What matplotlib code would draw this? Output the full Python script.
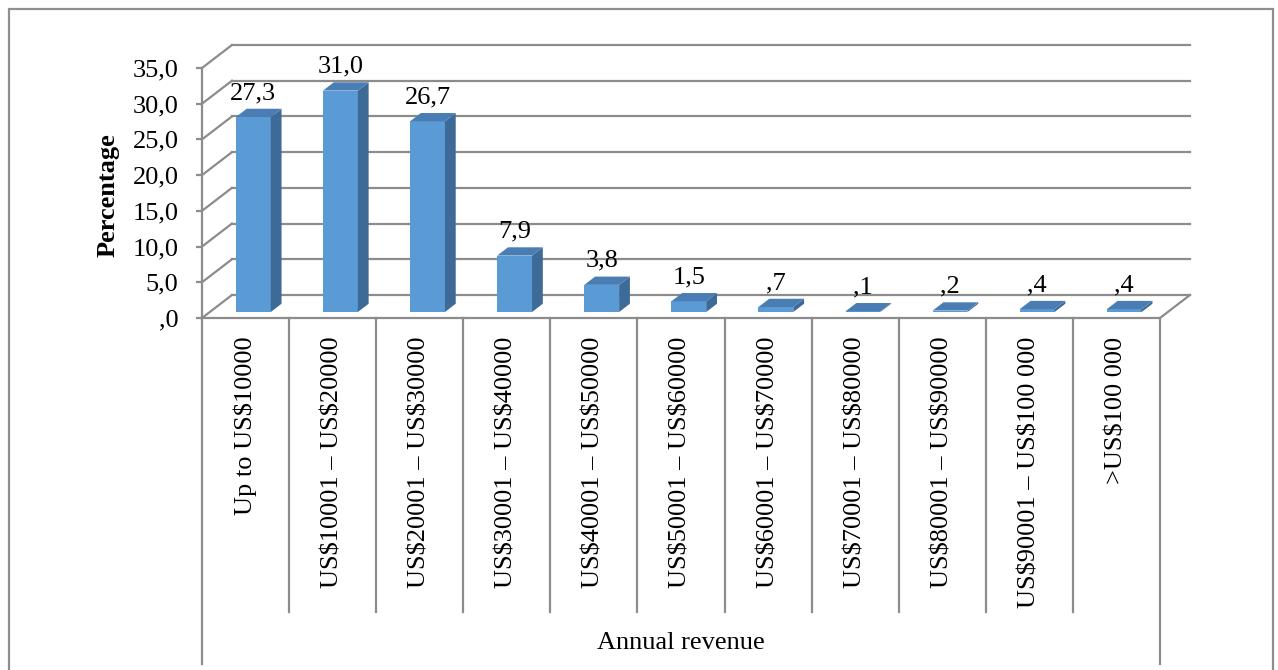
import matplotlib
matplotlib.use("Agg")
import matplotlib.pyplot as plt
from matplotlib.patches import Polygon, Rectangle

categories = [
    "Up to US$10000",
    "US$10001 \u2013 US$20000",
    "US$20001 \u2013 US$30000",
    "US$30001 \u2013 US$40000",
    "US$40001 \u2013 US$50000",
    "US$50001 \u2013 US$60000",
    "US$60001 \u2013 US$70000",
    "US$70001 \u2013 US$80000",
    "US$80001 \u2013 US$90000",
    "US$90001 \u2013 US$100 000",
    ">US$100 000",
]
percentages = [27.3, 31.0, 26.7, 7.9, 3.8, 1.5, 0.7, 0.1, 0.2, 0.4, 0.4]
y_ticks = [0, 5, 10, 15, 20, 25, 30, 35]


def pt_format(v):
    # 0.7 -> ",7", 0 -> ",0", 27.3 -> "27,3"
    s = f"{v:.1f}".replace(".", ",")
    return s[1:] if s.startswith("0") else s


plt.rcParams["font.family"] = ["Liberation Serif", "DejaVu Serif"]
plt.rcParams["text.parse_math"] = False   # dollar signs are literal
FS = 19
GRID = "#8c8c8c"
FRONT = "#5b9bd5"
SIDE = "#3d6a96"
TOP = "#4a7db4"

W, H = 1278, 670
fig = plt.figure(figsize=(W / 100, H / 100), dpi=100)
ax = fig.add_axes([202 / W, (H - 318) / H, (1160 - 202) / W, 250 / H])
ax.set_xlim(0, len(categories))
ax.set_ylim(0, 35)

# 3D depth offset of the back wall (in data units)
DX, DY = 0.344, 3.22
f0, f1 = 0.26, 0.62      # bar front / back position in depth
bw = 0.40                 # bar width

n = len(categories)

# back wall gridlines and left side wall diagonals
for t in y_ticks:
    ax.plot([DX, n + DX], [t + DY, t + DY], color=GRID, lw=1.6, zorder=1, clip_on=False)
    ax.plot([0, DX], [t, t + DY], color=GRID, lw=1.6, zorder=1, clip_on=False)
# right edge of floor
ax.plot([n, n + DX], [0, DY], color=GRID, lw=1.6, zorder=1, clip_on=False)

# bars
for i, v in enumerate(percentages):
    x0 = i + 0.5 - bw / 2 + f0 * DX
    yb = f0 * DY
    ddx, ddy = (f1 - f0) * DX, (f1 - f0) * DY
    ax.add_patch(Rectangle((x0, yb), bw, v, facecolor=FRONT, edgecolor="none", zorder=3, clip_on=False))
    ax.add_patch(Polygon([(x0 + bw, yb), (x0 + bw + ddx, yb + ddy), (x0 + bw + ddx, yb + ddy + v),
                          (x0 + bw, yb + v)], closed=True, facecolor=SIDE, edgecolor="none",
                         zorder=3, clip_on=False))
    ax.add_patch(Polygon([(x0, yb + v), (x0 + bw, yb + v), (x0 + bw + ddx, yb + v + ddy),
                          (x0 + ddx, yb + v + ddy)], closed=True, facecolor=TOP, edgecolor="none",
                         zorder=3, clip_on=False))
    ax.text(x0 + bw / 2, v + yb + ddy + 2.2, pt_format(v), ha="center", va="center",
            fontsize=FS, zorder=4)

# front axes
for side in ["top", "right"]:
    ax.spines[side].set_visible(False)
for side in ["left", "bottom"]:
    ax.spines[side].set_color(GRID)
    ax.spines[side].set_linewidth(1.6)
ax.set_yticks(y_ticks)
ax.set_yticklabels([pt_format(t) for t in y_ticks], fontsize=FS)
ax.tick_params(axis="y", length=4, width=1.6, color=GRID, pad=13)
ax.set_xticks([])

# category dividers and labels below the floor
for k in range(n + 1):
    bottom = -48.5 if k in (0, n) else -41.2
    ax.plot([k, k], [0, bottom], color=GRID, lw=1.6, clip_on=False)
for i, c in enumerate(categories):
    ax.text(i + 0.5, -2.6, c, rotation=90, ha="center", va="top", fontsize=FS)

ax.text(n / 2, -45.5, "Annual revenue", ha="center", va="center", fontsize=FS)
ax.text(-1.08, 17.2, "Percentage", rotation=90, ha="center", va="center",
        fontsize=FS, fontweight="bold")

# chart frame
fig.patches.append(Rectangle((9 / W, -0.05), (1273 - 9) / W, (H - 9) / H + 0.05,
                             transform=fig.transFigure, fill=False, edgecolor="#8f8f8f", lw=1.6))

fig.savefig("out.png", dpi=100)
